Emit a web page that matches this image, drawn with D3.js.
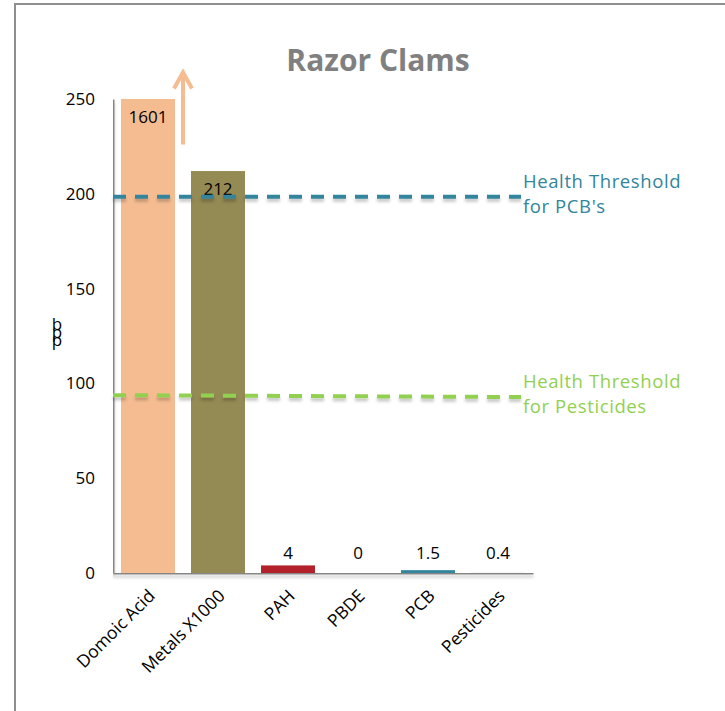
<!DOCTYPE html>
<html>
<head>
<meta charset="utf-8">
<script src="https://cdn.jsdelivr.net/npm/d3@7"></script>
<style>
  html, body { margin: 0; padding: 0; background: #fff; }
  svg { display: block; font-family: "Open Sans", sans-serif; }
</style>
</head>
<body>
<svg id="chart" width="725" height="711"></svg>
<script>
// chart data
const categories = ['Domoic Acid', 'Metals X1000', 'PAH', 'PBDE', 'PCB', 'Pesticides'];
const values = [1601, 212, 4, 0, 1.5, 0.4];
const barColors = ['#F5BC91', '#948A54', '#B3212A', '#948A54', '#31859C', '#F2F2F2'];
const yTicks = [0, 50, 100, 150, 200, 250];

// threshold lines: value at left end, value at right end
const pcbThreshold = [198.5, 198.5];
const pesticideThreshold = [93.8, 92.8];

const svg = d3.select('#chart');

// outer frame
svg.append('rect')
  .attr('x', 15).attr('y', 4)
  .attr('width', 800).attr('height', 800)
  .attr('fill', 'none')
  .attr('stroke', '#8f8f8f')
  .attr('stroke-width', 2);

const plot = { left: 113, right: 533, top: 99, bottom: 573 };

const x = d3.scaleBand()
  .domain(categories)
  .range([plot.left, plot.right])
  .paddingInner(16 / 70)
  .paddingOuter(8 / 70);

const y = d3.scaleLinear()
  .domain([0, 250])
  .range([plot.bottom, plot.top]);

// shadow (user space, so flat lines still render)
const defs = svg.append('defs');
const shadow = defs.append('filter')
  .attr('id', 'shadow')
  .attr('filterUnits', 'userSpaceOnUse')
  .attr('x', 0).attr('y', 0)
  .attr('width', 725).attr('height', 711);
shadow.append('feDropShadow')
  .attr('dx', 0).attr('dy', 3)
  .attr('stdDeviation', 1.5)
  .attr('flood-color', '#000')
  .attr('flood-opacity', 0.22);

// bars (clipped at top of the axis)
svg.append('g')
  .selectAll('rect')
  .data(categories)
  .join('rect')
  .attr('x', (d) => x(d))
  .attr('width', x.bandwidth())
  .attr('y', (d, i) => y(Math.min(values[i], 250)))
  .attr('height', (d, i) => y(0) - y(Math.min(values[i], 250)))
  .attr('fill', (d, i) => barColors[i]);

// value labels
svg.append('g')
  .selectAll('text')
  .data(categories)
  .join('text')
  .attr('x', (d) => x(d) + x.bandwidth() / 2)
  .attr('y', (d, i) => values[i] > 100 ? y(Math.min(values[i], 250)) + 24 : y(0) - 14)
  .attr('text-anchor', 'middle')
  .attr('font-size', 17)
  .attr('fill', '#000')
  .text((d, i) => values[i]);

// y axis
const yAxis = svg.append('g')
  .attr('transform', `translate(${plot.left},0)`)
  .call(d3.axisLeft(y).tickValues(yTicks).tickSize(0).tickPadding(18));
yAxis.select('.domain').attr('stroke', '#868686').attr('stroke-width', 2).attr('filter', 'url(#shadow)');
yAxis.selectAll('text')
  .attr('font-size', 17)
  .attr('font-family', '"Open Sans", sans-serif')
  .attr('fill', '#000');

// x axis
const xAxis = svg.append('g')
  .attr('transform', `translate(0,${plot.bottom})`)
  .call(d3.axisBottom(x).tickSize(0).tickPadding(0));
xAxis.select('.domain').attr('stroke', '#868686').attr('stroke-width', 2).attr('filter', 'url(#shadow)');
xAxis.selectAll('text')
  .attr('font-size', 17.5)
  .attr('font-family', '"Open Sans", sans-serif')
  .attr('fill', '#000')
  .attr('text-anchor', 'end')
  .attr('dy', 0)
  .attr('transform', 'translate(8,24) rotate(-45)');

// y axis label, letters stacked
const yLabel = svg.append('text')
  .attr('font-size', 17)
  .attr('fill', '#000')
  .attr('text-anchor', 'middle');
['b', 'p', 'p'].forEach((c, i) => {
  yLabel.append('tspan').attr('x', 57).attr('y', 330 + i * 8).text(c);
});

// threshold lines
const thresholds = [
  { vals: pcbThreshold, color: '#31859C', label: ['Health Threshold', "for PCB's"] },
  { vals: pesticideThreshold, color: '#92D050', label: ['Health Threshold', 'for Pesticides'] },
];
const lineEnd = 521;
thresholds.forEach((t) => {
  svg.append('line')
    .attr('x1', plot.left).attr('x2', lineEnd)
    .attr('y1', y(t.vals[0])).attr('y2', y(t.vals[1]))
    .attr('stroke', t.color)
    .attr('stroke-width', 4)
    .attr('stroke-dasharray', '13 9')
    .attr('filter', 'url(#shadow)');
  const lbl = svg.append('text')
    .attr('font-size', 18.5)
    .attr('letter-spacing', 0.6)
    .attr('fill', t.color);
  t.label.forEach((s, i) => {
    lbl.append('tspan').attr('x', 523).attr('y', y(t.vals[1]) - 9 + i * 25).text(s);
  });
});

// arrow showing Domoic Acid goes off the scale
const arrowX = x('Domoic Acid') + x.bandwidth() + 8;
const arrow = svg.append('g')
  .attr('stroke', '#F5BC91')
  .attr('stroke-width', 4)
  .attr('fill', 'none');
arrow.append('line')
  .attr('x1', arrowX).attr('x2', arrowX)
  .attr('y1', y(226)).attr('y2', y(264));
arrow.append('polyline')
  .attr('points', `${arrowX - 9},${y(255.5)} ${arrowX},${y(264)} ${arrowX + 9},${y(255.5)}`)
  .attr('stroke-linejoin', 'miter');

// title
svg.append('text')
  .attr('x', 378).attr('y', 71)
  .attr('text-anchor', 'middle')
  .attr('font-size', 30)
  .attr('font-weight', 'bold')
  .attr('fill', '#808080')
  .text('Razor Clams');
</script>
</body>
</html>
